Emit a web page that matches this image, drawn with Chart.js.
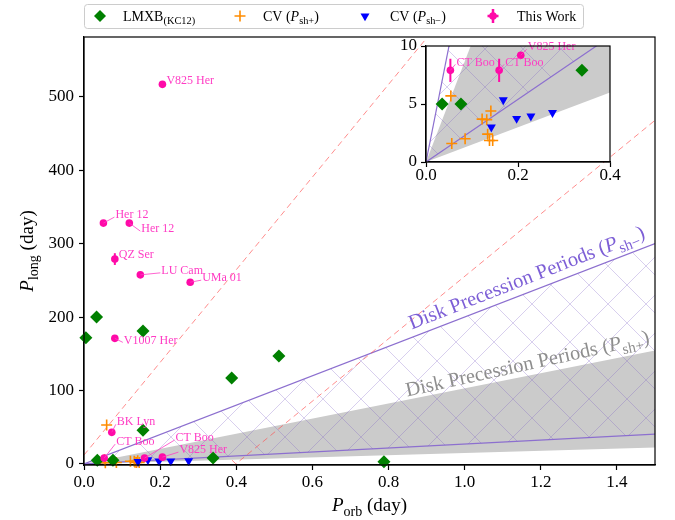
<!DOCTYPE html>
<html>
<head>
<meta charset="utf-8">
<script src="https://cdn.jsdelivr.net/npm/chart.js@4.4.0/dist/chart.umd.min.js"></script>
<style>
  body { margin: 0; background: #fff; }
  #wrap { position: relative; width: 675px; height: 520px; }
  #main { position: absolute; left: 0; top: 0; }
  #inset { position: absolute; left: 390px; top: 30px; }
</style>
</head>
<body>
<div id="wrap">
  <canvas id="main" width="675" height="520"></canvas>
  <canvas id="inset" width="235" height="170"></canvas>
</div>
<script>
const FONT = '"Liberation Serif", "Times New Roman", serif'
const WORK_COLOR = '#ff0aa8', LABEL_COLOR = '#ff3cc4'

// LMXBs (KC12)
const lmxbOrb  = [0.005, 0.033, 0.155, 0.035, 0.076, 0.155, 0.339, 0.388, 0.512, 0.788]
const lmxbLong = [172, 200, 181, 5.0, 5.0, 46, 7.9, 117, 147, 3]
// CVs with positive superhumps
const cvPlusOrb  = [0.0595, 0.054, 0.056, 0.085, 0.122, 0.132, 0.141, 0.134, 0.138, 0.145]
const cvPlusLong = [53, 5.7, 1.6, 2.0, 3.7, 3.65, 4.4, 2.4, 1.85, 1.85]
// CVs with negative superhumps
const cvMinusOrb  = [0.142, 0.168, 0.197, 0.228, 0.275]
const cvMinusLong = [3.0, 5.35, 3.75, 3.95, 4.25]
// this work
const workNames = ['V825 Her','Her 12','Her 12','QZ Ser','LU Cam','UMa 01','V1007 Her','BK Lyn','CT Boo','CT Boo','V825 Her']
const workOrb   = [0.206, 0.051, 0.119, 0.081, 0.148, 0.279, 0.081, 0.073, 0.053, 0.159, 0.206]
const workLong  = [517, 328, 328, 279, 257.5, 247.5, 171, 43, 7.9, 7.9, 9.2]
const workErr   = [0, 0, 0, 8, 0, 0, 0, 0, 1.0, 1.0, 0]

// precession period bands: P_long / P_orb ratios (lower, upper)
const shPlusRatio  = [15, 103]
const shMinusRatio = [27, 200]
// red dashed guide lines
const guideX = [[0, 0.9], [0.389, 0.399, 1.5]]
const guideY = [[12, 580], [5, 0, 468]]

const xTicks = [0, 0.2, 0.4, 0.6, 0.8, 1.0, 1.2, 1.4]
const yTicks = [0, 100, 200, 300, 400, 500]
const insetXTicks = [0, 0.2, 0.4]
const insetYTicks = [0, 5, 10]

// label placement (pixel offsets from the point)
const labelDX = [4, 12, 12, 4, 21, 12, 9, 5, 12, 31, 17]
const labelDY = [-3.5, -8, 6, -4, -4, -4, 2, -10, -16, -20, -7]
const insetDX = [7, 0, 0, 0, 0, 0, 0, 0, 6, 6, 7]
const insetDY = [-8, 0, 0, 0, 0, 0, 0, 0, -8, -8, -8]

const pts = (xs, ys) => xs.map((x, i) => ({x, y: ys[i]}))

const hatchTile = (() => {
  const c = document.createElement('canvas'); c.width = 38; c.height = 38
  const g = c.getContext('2d')
  g.strokeStyle = 'rgba(125,95,200,0.3)'; g.lineWidth = 1
  g.beginPath(); g.moveTo(0, 0); g.lineTo(38, 38); g.moveTo(38, 0); g.lineTo(0, 38); g.stroke()
  return c
})()

function datasets(ctx, xMax, guides) {
  const line = s => [{x: 0, y: 0}, {x: xMax, y: s * xMax}]
  const none = 'rgba(0,0,0,0)'
  const ds = [
    {data: line(shPlusRatio[1]), showLine: true, pointRadius: 0, borderWidth: 0, borderColor: none, fill: {target: 1}, backgroundColor: '#cbcbcb', order: 10},
    {data: line(shPlusRatio[0]), showLine: true, pointRadius: 0, borderWidth: 0, borderColor: none, fill: false, order: 10},
    {data: line(shMinusRatio[1]), showLine: true, pointRadius: 0, borderWidth: 1.2, borderColor: '#8c6fcf', fill: {target: 3}, backgroundColor: ctx.createPattern(hatchTile, 'repeat'), order: 9},
    {data: line(shMinusRatio[0]), showLine: true, pointRadius: 0, borderWidth: 1.2, borderColor: '#8c6fcf', fill: false, order: 9},
    {data: pts(cvPlusOrb, cvPlusLong), pointStyle: 'cross', pointRadius: 5.5, pointBorderColor: '#ff8c00', pointBorderWidth: 1.6, order: 4, clip: false},
    {data: pts(lmxbOrb, lmxbLong), pointStyle: 'rectRot', pointRadius: 6.5, pointBackgroundColor: '#008000', pointBorderColor: '#008000', pointBorderWidth: 0, order: 3, clip: false},
    {data: pts(cvMinusOrb, cvMinusLong), pointStyle: 'triangle', pointRotation: 180, pointRadius: 5.2, pointBackgroundColor: '#0000ff', pointBorderColor: '#0000ff', pointBorderWidth: 0, order: 2, clip: false},
    {data: pts(workOrb, workLong), pointStyle: 'circle', pointRadius: 3.8, pointBackgroundColor: WORK_COLOR, pointBorderColor: WORK_COLOR, pointBorderWidth: 0, order: 1, clip: false}
  ]
  if (guides) guideX.forEach((gx, k) => ds.push({
    data: pts(gx, guideY[k]), showLine: true, pointRadius: 0, borderWidth: 1,
    borderColor: 'rgba(255,80,80,0.65)', borderDash: [6, 4], fill: false, order: 8
  }))
  return ds
}

function richText(ctx, parts, x, y, size, draw = true) {
  for (const [t, k] of parts) {
    const fs = k === 's' ? size * 0.74 : size
    ctx.font = (k === 'i' ? 'italic ' : '') + fs + 'px ' + FONT
    if (draw) ctx.fillText(t, x, y + (k === 's' ? size * 0.25 : 0))
    x += ctx.measureText(t).width
  }
  return x
}

function axis(min, max, ticks, fmt, size, fixed, isX, pad) {
  return {
    type: 'linear', min, max,
    afterBuildTicks: s => { s.ticks = ticks.map(v => ({value: v})) },
    afterFit: s => { if (isX) s.height = fixed; else s.width = fixed },
    ticks: {callback: fmt, font: {family: FONT, size}, color: '#000', padding: pad, maxRotation: 0, autoSkip: false},
    grid: {drawOnChartArea: false, tickLength: 5, color: '#000', tickWidth: 1.2},
    border: {color: '#000', width: 1.2}
  }
}

const boxPlugin = {
  id: 'box',
  afterDraw(chart) {
    const {ctx, chartArea: a} = chart
    ctx.save(); ctx.strokeStyle = '#000'; ctx.lineWidth = 1.2
    ctx.strokeRect(a.left, a.top, a.right - a.left, a.bottom - a.top)
    ctx.restore()
  }
}

function workOverlay(dx, dy) {
  return {
    id: 'work',
    afterDatasetsDraw(chart) {
      const {ctx, scales: {x, y}} = chart
      const inside = i => workOrb[i] >= x.min && workOrb[i] <= x.max && workLong[i] >= y.min && workLong[i] <= y.max
      ctx.save()
      ctx.strokeStyle = WORK_COLOR; ctx.lineWidth = 2
      workOrb.forEach((v, i) => {
        if (!workErr[i] || !inside(i)) return
        const px = x.getPixelForValue(v)
        ctx.beginPath()
        ctx.moveTo(px, y.getPixelForValue(workLong[i] - workErr[i]))
        ctx.lineTo(px, y.getPixelForValue(workLong[i] + workErr[i]))
        ctx.stroke()
      })
      ctx.font = '12px ' + FONT; ctx.textBaseline = 'middle'
      ctx.fillStyle = LABEL_COLOR; ctx.strokeStyle = LABEL_COLOR; ctx.lineWidth = 0.8
      workNames.forEach((n, i) => {
        if (!inside(i)) return
        const px = x.getPixelForValue(workOrb[i]), py = y.getPixelForValue(workLong[i])
        const tx = px + dx[i], ty = py + dy[i]
        if (Math.hypot(dx[i], dy[i]) > 8) {
          ctx.beginPath(); ctx.moveTo(px, py); ctx.lineTo(tx - 1, ty + 2); ctx.stroke()
        }
        ctx.fillText(n, tx, ty)
      })
      ctx.restore()
    }
  }
}

function slopeText(chart, parts, color, xa, ratio, offset, extraDeg, len) {
  const {ctx, scales: {x, y}} = chart
  const p0x = x.getPixelForValue(xa), p0y = y.getPixelForValue(ratio * xa)
  const p1x = x.getPixelForValue(xa + 0.1), p1y = y.getPixelForValue(ratio * (xa + 0.1))
  const ang = Math.atan2(p1y - p0y, p1x - p0x) - extraDeg * Math.PI / 180
  ctx.save()
  ctx.translate(p0x, p0y); ctx.rotate(ang); ctx.translate(0, -offset)
  ctx.fillStyle = color; ctx.textBaseline = 'alphabetic'
  const w = richText(ctx, parts, 0, 0, 18, false)
  richText(ctx, parts, 0, 0, 18 * len / w)
  ctx.restore()
}

const mainDecor = {
  id: 'decor',
  afterDatasetsDraw(chart) {
    slopeText(chart, [['Disk Precession Periods (', 'n'], ['P', 'i'], ['sh\u2212', 's'], [')', 'n']],
      '#7d5fd6', 0.868, shMinusRatio[1], 7.5, 0.3, 252)
    slopeText(chart, [['Disk Precession Periods (', 'n'], ['P', 'i'], ['sh+', 's'], [')', 'n']],
      '#8e8e8e', 0.851, shPlusRatio[1], 3, 1.2, 249)
  },
  afterDraw(chart) {
    const {ctx, chartArea: a} = chart
    ctx.save()
    ctx.fillStyle = '#000'; ctx.textBaseline = 'alphabetic'
    // x title
    const xt = [['P', 'i'], ['orb', 's'], [' (day)', 'n']]
    let w = richText(ctx, xt, 0, 0, 19, false)
    richText(ctx, xt, (a.left + a.right) / 2 - w / 2, 511, 19)
    // y title
    const yt = [['P', 'i'], ['long', 's'], [' (day)', 'n']]
    w = richText(ctx, yt, 0, 0, 19, false)
    ctx.save(); ctx.translate(33, (a.top + a.bottom) / 2); ctx.rotate(-Math.PI / 2)
    richText(ctx, yt, -w / 2, 0, 19)
    ctx.restore()
    // legend
    ctx.fillStyle = 'rgba(255,255,255,0.85)'; ctx.strokeStyle = '#cccccc'; ctx.lineWidth = 1
    ctx.beginPath(); ctx.roundRect(84.5, 4.5, 499, 24, 3); ctx.fill(); ctx.stroke()
    const cy = 16
    ctx.fillStyle = '#008000'
    ctx.beginPath(); ctx.moveTo(100, cy - 6); ctx.lineTo(106, cy); ctx.lineTo(100, cy + 6); ctx.lineTo(94, cy); ctx.closePath(); ctx.fill()
    ctx.strokeStyle = '#ff8c00'; ctx.lineWidth = 1.6
    ctx.beginPath(); ctx.moveTo(234.5, cy); ctx.lineTo(245.5, cy); ctx.moveTo(240, cy - 5.5); ctx.lineTo(240, cy + 5.5); ctx.stroke()
    ctx.fillStyle = '#0000ff'
    ctx.beginPath(); ctx.moveTo(360.5, cy - 2.6); ctx.lineTo(369.5, cy - 2.6); ctx.lineTo(365, cy + 5.2); ctx.closePath(); ctx.fill()
    ctx.strokeStyle = WORK_COLOR; ctx.fillStyle = WORK_COLOR; ctx.lineWidth = 2.5
    ctx.beginPath(); ctx.moveTo(493, cy - 7); ctx.lineTo(493, cy + 7); ctx.moveTo(487.5, cy); ctx.lineTo(498.5, cy); ctx.stroke()
    ctx.beginPath(); ctx.arc(493, cy, 3.8, 0, Math.PI * 2); ctx.fill()
    ctx.fillStyle = '#000'
    richText(ctx, [['LMXB', 'n'], ['(KC12)', 's']], 123, 20.5, 14)
    richText(ctx, [['CV (', 'n'], ['P', 'i'], ['sh+', 's'], [')', 'n']], 263, 20.5, 14)
    richText(ctx, [['CV (', 'n'], ['P', 'i'], ['sh\u2212', 's'], [')', 'n']], 390, 20.5, 14)
    richText(ctx, [['This Work', 'n']], 517, 20.5, 14)
    ctx.restore()
  }
}

const whiteArea = {
  id: 'white',
  beforeDraw(chart) {
    const {ctx, chartArea: a} = chart
    ctx.save(); ctx.fillStyle = '#fff'
    ctx.fillRect(a.left, a.top, a.right - a.left, a.bottom - a.top)
    ctx.restore()
  }
}

const mainCtx = document.getElementById('main').getContext('2d')
new Chart(mainCtx, {
  type: 'scatter',
  data: {datasets: datasets(mainCtx, 1.5, true)},
  options: {
    responsive: false, animation: false, devicePixelRatio: 1, events: [],
    layout: {padding: {left: 0, right: 20, top: 37, bottom: 0}},
    plugins: {legend: {display: false}, tooltip: {enabled: false}},
    scales: {
      x: axis(0, 1.5, xTicks, v => v.toFixed(1), 17, 55, true, 2),
      y: axis(-1.5, 581.5, yTicks, v => String(v), 17, 84, false, 5)
    }
  },
  plugins: [boxPlugin, workOverlay(labelDX, labelDY), mainDecor]
})

const insetCtx = document.getElementById('inset').getContext('2d')
new Chart(insetCtx, {
  type: 'scatter',
  data: {datasets: datasets(insetCtx, 0.4, false)},
  options: {
    responsive: false, animation: false, devicePixelRatio: 1, events: [],
    layout: {padding: {left: 0, right: 15, top: 16, bottom: 0}},
    plugins: {legend: {display: false}, tooltip: {enabled: false}},
    scales: {
      x: axis(0, 0.4, insetXTicks, v => v.toFixed(1), 17, 38, true, -2),
      y: axis(0, 10, insetYTicks, v => String(v), 17, 36, false, 4)
    }
  },
  plugins: [whiteArea, boxPlugin, workOverlay(insetDX, insetDY)]
})
</script>
</body>
</html>
